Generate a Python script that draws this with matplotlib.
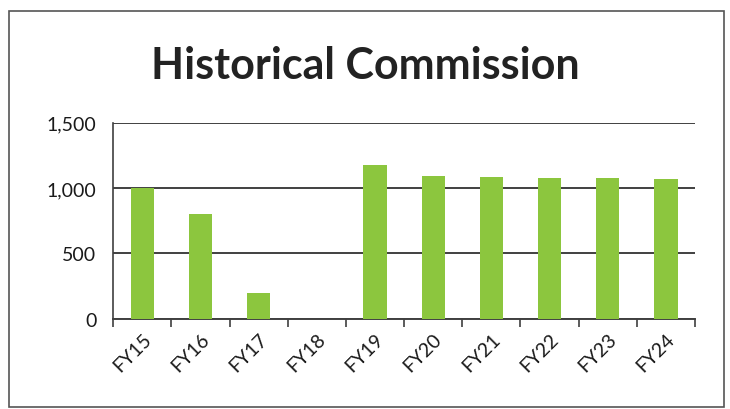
import matplotlib
matplotlib.use("Agg")
import matplotlib.pyplot as plt
from matplotlib.patches import Rectangle

categories = ["FY15", "FY16", "FY17", "FY18", "FY19", "FY20", "FY21", "FY22", "FY23", "FY24"]
values = [1000, 800, 200, 0, 1175, 1090, 1085, 1080, 1075, 1070]
yticks = [0, 500, 1000, 1500]
ytick_labels = ["0", "500", "1,000", "1,500"]
title = "Historical Commission"

plt.rcParams['font.family'] = ['Lato', 'DejaVu Sans']

fig = plt.figure(figsize=(7.3, 4.1), dpi=100)
fig.patch.set_facecolor("white")
fig.add_artist(Rectangle((0.012, 0.005), 0.98, 0.965, transform=fig.transFigure,
                         fill=False, edgecolor="#555555", linewidth=1.2))

ax = fig.add_axes([0.155, 0.22, 0.797, 0.478])
x = list(range(len(categories)))
ax.bar(x, values, width=0.4, color="#8cc63e", zorder=3)
ax.set_xlim(-0.5, len(categories) - 0.5)
ax.set_ylim(0, 1500)
ax.set_yticks(yticks)
ax.set_yticklabels(ytick_labels, fontsize=14, color="#1a1a1a")
ax.yaxis.grid(True, color="#404040", linewidth=1.4, zorder=0)
ax.tick_params(axis="y", length=0, pad=12)
ax.set_xticks([i - 0.5 for i in range(len(categories) + 1)], minor=False)
ax.set_xticklabels([""] * (len(categories) + 1))
ax.set_xticks(x, minor=True)
ax.set_xticklabels(categories, minor=True, rotation=45, ha="right", rotation_mode="anchor",
                   fontsize=14, color="#1a1a1a")
ax.tick_params(axis="x", which="major", length=6, color="#404040", width=1.2)
ax.tick_params(axis="x", which="minor", length=0, pad=8)
for s in ["top", "right"]:
    ax.spines[s].set_visible(False)
ax.spines["left"].set_color("#404040")
ax.spines["left"].set_linewidth(1.2)
ax.spines["bottom"].set_color("#404040")
ax.spines["bottom"].set_linewidth(1.4)

fig.text(0.5, 0.84, title, ha="center", va="center", fontsize=31, fontweight="bold", color="#222222")

fig.savefig("out.png", dpi=100)
